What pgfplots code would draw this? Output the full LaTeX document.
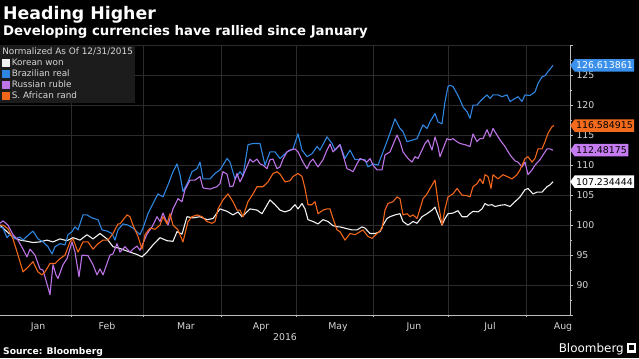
\documentclass[border=0pt]{standalone}
\usepackage{fontspec}
\setmainfont{DejaVu Sans}
\usepackage{pgfplots}
\pgfplotsset{compat=1.18}
\usetikzlibrary{shapes.symbols}
\definecolor{cblue}{HTML}{2F86E0}
\definecolor{cpurple}{HTML}{BE74E8}
\definecolor{corange}{HTML}{F2661A}
\definecolor{cwhite}{HTML}{F2F2F2}
\definecolor{tagblue}{HTML}{3A90EA}
\definecolor{tagpurple}{HTML}{C47CF0}
\definecolor{tagorange}{HTML}{F26B1D}
\definecolor{gridgray}{HTML}{2C2C2C}
\definecolor{axisgray}{HTML}{BDBDBD}
\definecolor{labelgray}{HTML}{D6D6D6}
\definecolor{legendbg}{HTML}{1C1C1C}
\begin{document}
\begin{tikzpicture}[x=1bp,y=1bp]
\path[use as bounding box, fill=black] (0,0) rectangle (639,358);
\node[anchor=base west, text=white, font=\fontsize{17.4}{20}\selectfont\bfseries, inner sep=0] at (3,339) {Heading Higher};
\node[anchor=base west, text=white, font=\fontsize{13.3}{15}\selectfont\bfseries, inner sep=0] at (3,323) {Developing currencies have rallied since January};
\begin{axis}[
  at={(0,71.5)}, anchor=south west, width=570bp, height=270bp, scale only axis,
  xmin=3.6, xmax=231.6, ymin=85, ymax=130,
  axis x line=bottom, axis y line=right,
  axis line style={-, draw=axisgray, line width=0.8bp},
  xtick={18.8,46.4,78,108,138.8,169.2,199.6,228.8},
  xticklabels={Jan,Feb,Mar,Apr,May,Jun,Jul,Aug},
  major x tick style={draw=none},
  minor xtick={32,61,92,122,153,183,214},
  xminorgrids, minor x tick style={draw=axisgray, line width=0.6bp},
  ytick={85,90,...,130},
  yticklabels={,90,95,100,105,110,115,120,125,},
  minor ytick={87.5,92.5,...,127.5},
  ymajorgrids,
  tick align=outside, major tick length=3bp, minor tick length=2bp,
  y tick style={draw=axisgray, line width=0.6bp},
  grid style={draw=gridgray, line width=0.6bp},
  minor grid style={draw=gridgray, line width=0.6bp},
  tick label style={font=\fontsize{9.4}{10}\selectfont, text=labelgray},
  xticklabel style={yshift=-1bp},
  /pgf/number format/assume math mode=true,
  legend style={at={(0,1)}, anchor=north west, fill=legendbg, draw=none,
    text=labelgray, font=\fontsize{8.9}{10}\selectfont,
    inner xsep=2bp, inner ysep=2bp, row sep=1.7bp,
    nodes={inner sep=0.5bp, text height=6.5bp, text depth=1.8bp},
    /tikz/every odd column/.append style={column sep=1bp}},
  legend cell align=left,
  legend image code/.code={\fill[#1] (0bp,-3.5bp) rectangle (7bp,3.5bp);},
  no markers,
  every axis plot/.append style={line width=1.1bp, line join=round},
]
\addlegendimage{empty legend}
\addlegendentry{\hspace{-9.5bp}Normalized As Of 12/31/2015}
\addplot[color=cwhite] coordinates {(3.6,100) (6.4,98.9) (8.8,98) (11.6,97.5) (14.4,97.3) (16.8,97.1) (19.6,97.2) (22.4,97.5) (24.8,97.2) (27.6,97.7) (30.4,97.4) (32.8,97.9) (35.6,97.5) (38.4,98.4) (40.8,97.7) (43.6,98.6) (46.4,97.7) (48.8,96.4) (51.6,96.1) (55.6,95.5) (58.4,95.1) (60.4,94.7) (62.4,95.5) (64.8,96.7) (67.6,97.9) (70.4,97.4) (72.8,97.3) (74.4,98.9) (76.4,98.5) (78.4,101.4) (80.8,101.2) (83.6,101.4) (86.4,100.9) (88.8,101.1) (91.6,102.7) (94.4,102.3) (96.8,101.7) (98.8,102.2) (100.4,101.4) (103.6,102.7) (106.4,102.5) (108.4,101.9) (111.6,104.2) (113.6,103.4) (115.6,102.5) (117.6,102.2) (119.6,102.5) (121.6,103.4) (122.8,102.7) (124.4,103.6) (125.6,102.7) (126.8,100.9) (128.8,100.6) (130.8,100.2) (132.8,100.9) (134.8,100.6) (136.8,99.9) (138.8,99.7) (139.6,99.7) (142.4,99.4) (144.4,99.2) (146.4,99.2) (148.4,99.7) (149.6,99.5) (151.6,98.6) (153.6,98.6) (155.6,98.9) (156.8,100) (158.4,101.1) (159.6,101.4) (161.6,101.7) (163.6,101.9) (164.8,100.6) (166.8,100) (168.8,100.6) (170.4,100.3) (172.4,101.4) (174.4,101.9) (176.4,102.5) (177.6,103) (178.8,101.7) (180.4,100) (181.6,101.1) (182.8,101.9) (184.8,102) (186.8,102.4) (188.4,101.4) (190.4,101.4) (191.6,101.9) (192.8,102.3) (194.8,102.2) (196.4,102.7) (197.6,103.6) (198.8,103.3) (200.4,103.4) (201.6,103.1) (203.6,103.3) (205.6,103.4) (207.6,103.1) (209.6,103.9) (211.6,104.7) (213.6,105.9) (214.8,106.1) (216.8,105.2) (218.4,105.5) (220.4,105.5) (222.4,106.4) (223.6,106.7) (224.8,107.234444)};
\addlegendentry{Korean won}
\addplot[color=cblue] coordinates {(3.6,99.7) (4.8,99.5) (6.4,97.9) (7.6,98.5) (9.6,97.7) (11.6,98) (12.8,97.5) (14.8,98.3) (16.8,99) (18.8,97.7) (20.8,97.2) (22.8,96.4) (24.4,95.2) (25.6,96.4) (27.6,96.9) (29.6,96.7) (30.8,98.4) (32.4,98.9) (33.6,99.7) (34.8,99.2) (36.8,101.7) (38.4,101.7) (40.4,101.2) (42.8,100.9) (44.4,99.2) (46.4,99) (48.4,98.6) (49.6,97.5) (50.8,99.2) (52.8,100.2) (54.8,100) (56.8,99.5) (59.6,98.4) (60.8,99.5) (62.8,101.9) (64.8,103.6) (66.8,105.2) (68.8,104.7) (70.8,106.7) (72.8,108.9) (74.4,110.2) (75.6,108.4) (76.8,105.6) (78.8,107.2) (80.4,108.9) (82.4,109.4) (83.6,110.5) (84.8,107.7) (87.6,107.7) (89.6,108.6) (91.6,109.2) (92.8,110) (94.4,111.1) (95.6,110.5) (97.6,107.7) (99.6,108.9) (100.8,108.2) (102.8,113.4) (104.8,113.6) (107.6,113.6) (109.6,110) (111.6,112.2) (113.6,112.2) (115.6,111.1) (118.4,112.2) (120.8,112.7) (122.8,115.2) (124.4,112.5) (126.4,111.4) (128.4,111.9) (130.4,113.1) (131.6,112.5) (134.4,114.7) (136.4,113.6) (137.6,112.5) (139.6,113.4) (141.6,111.1) (143.6,112.5) (145.6,110.9) (147.6,110.9) (149.6,110.9) (150.8,109.7) (152.8,110.2) (154.8,110) (156.8,112.2) (158.8,114.4) (161.6,117.7) (163.6,116.1) (164.8,115.6) (166.4,113.9) (168.8,114.2) (170.4,114.4) (171.6,115.6) (172.8,116.7) (174.4,116.1) (175.6,117.2) (177.6,118.6) (178.8,117.2) (180.4,116.9) (181.6,120.6) (182.8,123.1) (183.6,123.3) (184.8,123.1) (186.4,121.9) (187.6,120.9) (188.8,119.7) (190.4,118.9) (191.6,117.8) (192.8,120) (194.4,120) (195.6,120.6) (196.8,121.1) (198.4,121.7) (199.6,121.1) (200.8,121.7) (202.8,121.7) (204.4,121.4) (206.4,121.7) (207.6,120.6) (209.6,121.1) (210.8,121.4) (212.4,120.6) (213.6,121.7) (215.6,121.6) (217.6,122.2) (218.8,123.6) (220.4,124.7) (221.6,124.9) (222.8,125.6) (224.8,126.613861)};
\addlegendentry{Brazilian real}
\addplot[color=cpurple] coordinates {(3.6,100.3) (4.8,100.7) (6.8,100) (8.8,98.4) (10.8,97.5) (12.8,96) (14.4,94.7) (15.6,96) (17.6,95) (19.6,92.7) (20.8,92.5) (22.4,90.2) (23.6,88.4) (24.8,93.4) (26,91.7) (26.8,91.1) (28.8,93.4) (30.4,94.4) (32.4,97.2) (33.6,95.5) (35.2,91.4) (36.4,95) (38.8,94.9) (40.8,93.4) (42.4,91.7) (43.6,92.7) (44.8,91.7) (46.4,93.6) (47.6,95) (48.8,95.2) (50.4,96.9) (51.6,95.5) (53.6,96.4) (55.6,95.5) (56.8,96) (58.4,96.5) (59.6,95.8) (62.4,98.5) (64.4,99.7) (66.4,101.4) (67.6,100.6) (68.8,102) (70.8,100) (72.8,102.7) (74.8,104.4) (76.4,103.9) (77.6,105.9) (79.6,107.5) (81.6,107.5) (83.6,108.1) (84.8,106.2) (87.6,106) (90.4,106.4) (91.6,106.9) (92.8,108.9) (94.4,108.5) (95.6,106.4) (96.8,106.5) (98.4,108.6) (99.6,107.2) (100.8,108.2) (103.6,111) (104.8,110.5) (106.4,111) (107.6,110.2) (108.8,110) (110.4,109.4) (111.6,110.9) (112.8,111) (114.4,109.4) (115.6,109.7) (116.8,111) (118.4,112.2) (119.6,112.5) (121.6,112.7) (122.8,112.2) (124.8,110.5) (126.4,109.4) (127.6,110.5) (128.8,111) (130.8,109.7) (132.8,110.9) (134.4,112.5) (135.6,113.5) (136.8,112.2) (139.6,113.4) (140.8,111.7) (142.4,109.4) (143.6,109.2) (144.8,108.9) (146.4,110.2) (147.6,111.1) (148.8,110.9) (150.4,110.5) (151.6,111.1) (152.8,110) (154.4,109.2) (156.4,109.2) (157.6,111.7) (159.6,112.2) (162.4,115) (163.6,113.9) (164.8,112.2) (166.8,111.1) (168.4,110.5) (169.6,111.4) (170.8,111.1) (172.4,112.5) (173.6,113.6) (174.8,114.2) (176.4,112.5) (177.6,114.7) (178.8,113.1) (179.6,111.4) (180.8,112.7) (182.4,114.4) (183.6,114.2) (184.8,114.4) (186.4,113.9) (187.6,113.6) (189.6,113.4) (191.6,113.1) (192.8,115.2) (194.4,113.9) (195.6,114.4) (196.8,114.4) (198.4,115.9) (199.6,114.7) (200.8,116.1) (202.4,115) (203.6,114.2) (205.6,113.1) (207.6,111.7) (209.6,110.7) (210.8,110.5) (212.4,109.7) (213.6,110.5) (214.8,108.4) (216.4,109.2) (217.6,110) (219.6,110.9) (220.8,111.7) (222.4,112.7) (223.6,112.7) (224.8,112.48175)};
\addlegendentry{Russian ruble}
\addplot[color=corange] coordinates {(3.6,100) (4.8,100) (6.8,99.4) (8.8,97.7) (10.8,95) (12.8,92.2) (14.8,93) (16.8,93.9) (18.8,92.2) (20.4,91.7) (21.6,92.2) (23.6,93.6) (25.6,93.6) (27.6,94.4) (29.6,95) (31.6,97.2) (32.8,97.7) (34.8,95.5) (36.8,97.2) (38.8,97.2) (40.8,96) (42.8,96.9) (44.8,97.5) (46.8,97.5) (48.8,98.6) (50.8,100.2) (51.6,100.2) (54.4,101.7) (55.6,101.4) (56.8,100) (58.8,98.1) (60.4,96) (61.6,98.4) (63.6,99.5) (65.6,99.3) (67.6,100) (68.8,101.4) (70.4,100.2) (71.6,101.9) (72.8,100) (74.8,99.2) (76.8,97.2) (78.8,100.6) (80.4,101.4) (82.4,101.7) (84.4,101.4) (86.4,100.6) (88.4,100.3) (89.6,100.6) (90.8,102.7) (92.8,104.2) (94.8,105.2) (96.8,103.9) (98.4,102.5) (99.6,102.5) (100.8,101.4) (102.8,103.9) (104.8,105.2) (106.4,106.4) (108.8,106.4) (110.8,107.2) (112.8,108.6) (114.4,108.9) (115.6,108.5) (117.6,107.2) (119.6,107.4) (120.8,108.1) (122.8,108.6) (124.4,108.1) (125.6,106.1) (126.8,103.4) (128.4,103.4) (129.6,103.9) (130.8,101.9) (132.8,102.5) (134.4,102.7) (135.6,102.7) (136.8,101.1) (138.4,99.2) (139.6,98.9) (141.6,97.5) (143.6,98.6) (145.6,98.4) (147.6,98.9) (148.8,99.2) (150.8,98.1) (152.4,97.8) (154.4,98.6) (156.4,99.4) (157.6,102.5) (158.8,103.6) (160.8,103.9) (162.4,104.7) (163.6,104.4) (164.8,101.7) (166.4,101.9) (167.6,101.4) (168.8,101.7) (170.4,101.1) (171.6,102.7) (172.8,104.4) (174.4,105.2) (175.6,106.1) (177.6,107.5) (178.8,103.9) (180.4,100) (181.6,102.7) (182.8,104.7) (184.8,105.2) (186.4,106.1) (188.4,105) (190.4,104.9) (191.6,104.7) (192.8,106.4) (194.4,106.9) (195.6,107.7) (196.8,106.9) (197.6,108.4) (198.8,108.1) (200,106.1) (200.8,108.4) (202.8,107.7) (204.8,108.4) (206.4,108.1) (208.4,107.7) (210.4,108.4) (211.6,109.2) (213.6,111.1) (214.8,111.4) (216.4,110.5) (217.6,111.1) (218.8,112.7) (220.4,112.7) (221.6,113.9) (222.8,115.3) (224.4,116.4) (225.2,116.584915)};
\addlegendentry{S. African rand}
\coordinate (tb) at (axis cs:231.6,126.613861);
\coordinate (to) at (axis cs:231.6,116.584915);
\coordinate (tp) at (axis cs:231.6,112.48175);
\coordinate (tw) at (axis cs:231.6,107.234444);
\end{axis}
\tikzset{tag/.style={signal, signal to=west, signal pointer angle=110, anchor=west,
  inner xsep=1.5bp, inner ysep=0.5bp, minimum height=12.5bp,
  font=\fontsize{9.4}{10}\selectfont}}
\node[tag, fill=tagblue, text=white] at (tb) {126.613861};
\node[tag, fill=tagorange, text=black] at (to) {116.584915};
\node[tag, fill=tagpurple, text=black] at (tp) {112.48175};
\node[tag, fill=white, text=black] at (tw) {107.234444};
\node[text=labelgray, font=\fontsize{9.4}{10}\selectfont] at (285,21) {2016};
\node[anchor=base west, text=white, font=\fontsize{9.2}{10}\selectfont\bfseries, inner sep=0] at (3,4) {Source: Bloomberg};
\node[anchor=base east, text=white, font=\fontsize{12}{13}\selectfont, inner sep=0] at (624,6) {Bloomberg};
\fill[white] (627,5) rectangle (636,15);
\fill[black] (629,8) rectangle (634,13);
\end{tikzpicture}
\end{document}
